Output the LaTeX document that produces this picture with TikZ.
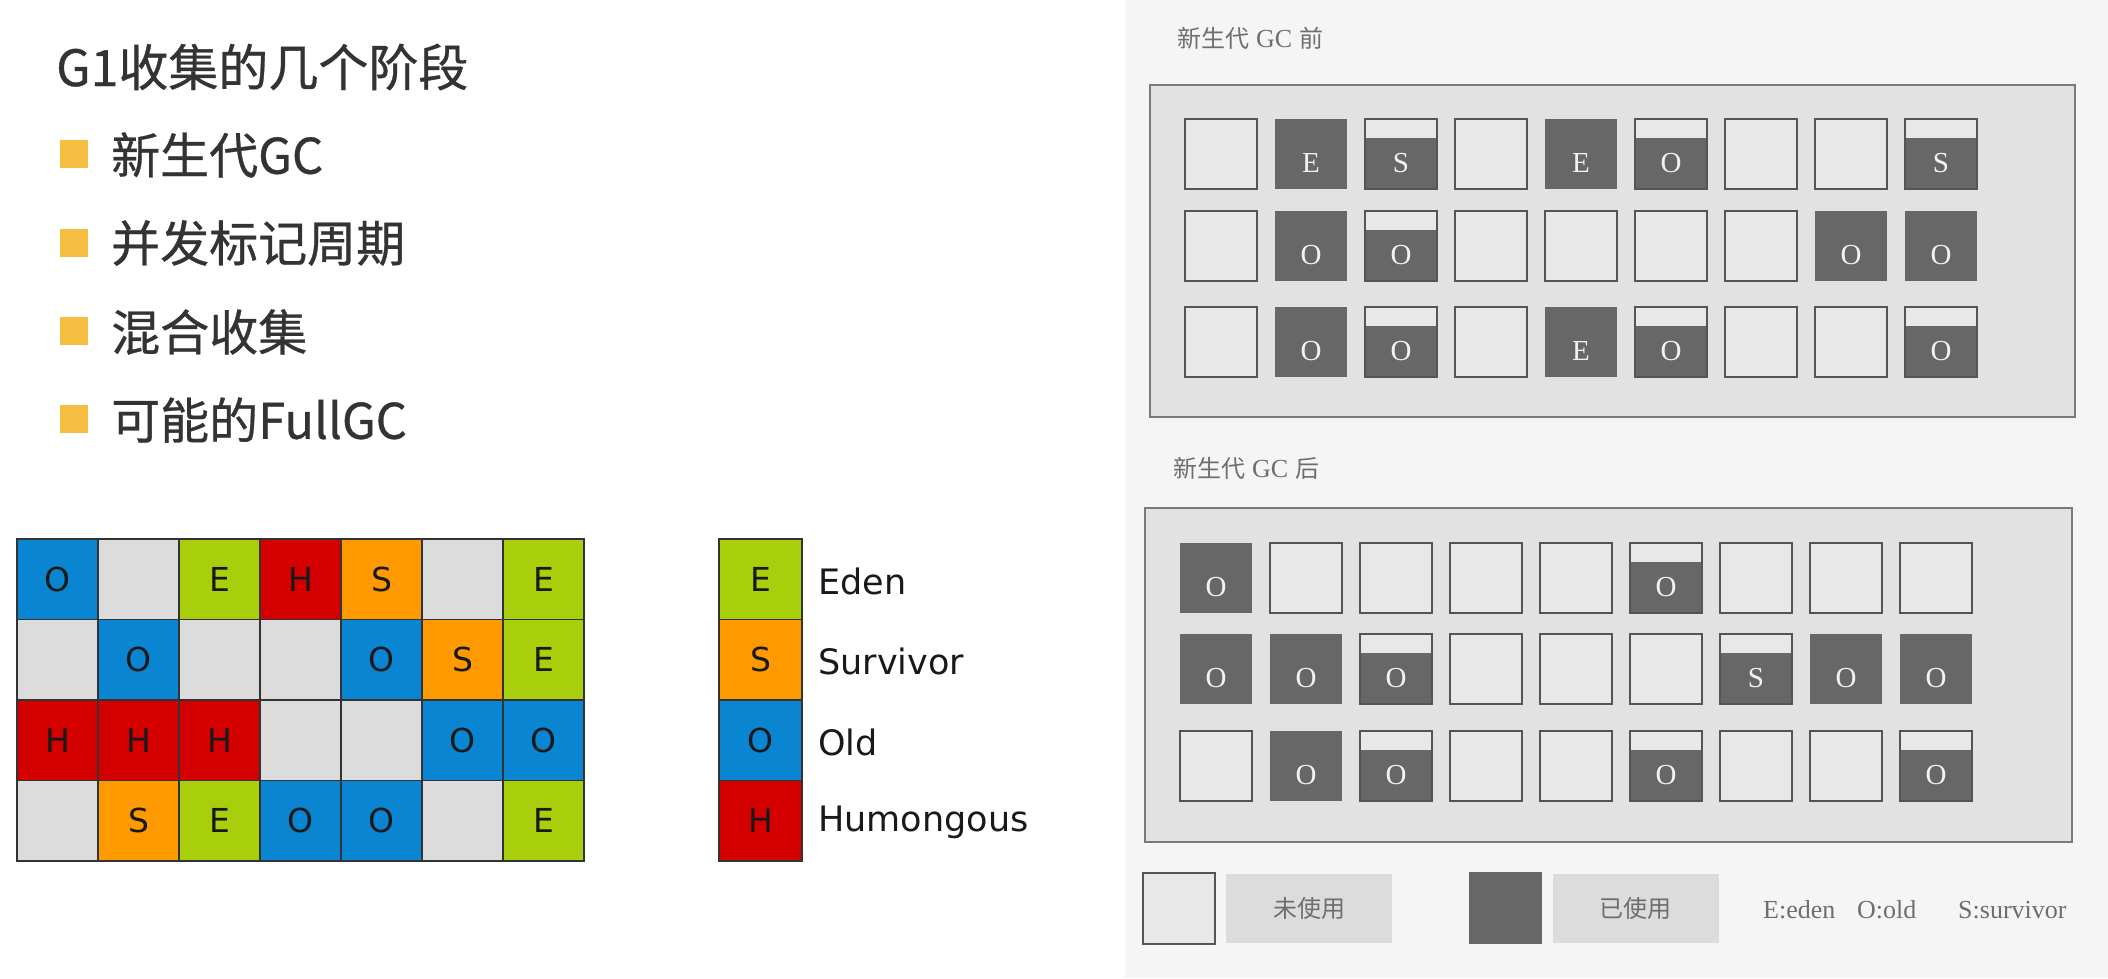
\documentclass[tikz,border=0pt]{standalone}
\usepackage{fontspec}
\newfontfamily\cjk{Noto Sans CJK SC}
\newfontfamily\cjkh[FakeBold=0.6]{Noto Sans CJK SC}
\newfontfamily\dvs{DejaVu Sans}
\newfontfamily\lsr{Liberation Serif}
\newcommand\celltext[1]{\if x#1\else#1\fi}
\definecolor{colO}{HTML}{0A85D2}
\definecolor{colE}{HTML}{A9CF0C}
\definecolor{colH}{HTML}{D40000}
\definecolor{colS}{HTML}{FE9A00}
\definecolor{colx}{HTML}{DCDCDC}
\definecolor{txtdark}{HTML}{333333}
\definecolor{bulletc}{HTML}{F5BE41}
\definecolor{paper}{HTML}{F5F5F5}
\definecolor{boxfill}{HTML}{E2E2E2}
\definecolor{boxline}{HTML}{7A7A7A}
\definecolor{celllight}{HTML}{E8E8E8}
\definecolor{cellline}{HTML}{555555}
\definecolor{celldark}{HTML}{676767}
\definecolor{lettc}{HTML}{F2F2F2}
\definecolor{grayt}{HTML}{6E6E6E}
\definecolor{lblfill}{HTML}{DCDCDC}
\begin{document}
\begin{tikzpicture}[x=1pt,y=-1pt,
  headline/.style={anchor=west,inner sep=0,text=txtdark,font=\cjkh\fontsize{50}{58}\selectfont},
  item/.style={anchor=west,inner sep=0,text=txtdark,font=\cjkh\fontsize{49}{56}\selectfont},
  bulletbox/.style={fill=bulletc,minimum size=28pt,inner sep=0},
  gcell/.style={draw=txtdark,line width=1.5pt,minimum width=81pt,minimum height=80.5pt,inner sep=0,text=black!90,font=\dvs\fontsize{33}{36}\selectfont},
  glabel/.style={anchor=west,inner sep=0,text=black!90,font=\dvs\fontsize{35}{40}\selectfont},
  rtitle/.style={anchor=west,inner sep=0,text=grayt,font=\cjk\fontsize{24}{28}\selectfont},
  bigbox/.style={draw=boxline,line width=2pt,fill=boxfill},
  rcn/.style={draw=cellline,fill=celllight,line width=2pt,minimum width=72pt,minimum height=70pt,inner sep=0},
  rcd/.style={fill=celldark,minimum width=72pt,minimum height=70pt,inner sep=0},
  rch/.style={rcd,draw=cellline,line width=2pt,path picture={\fill[celllight] (path picture bounding box.north west) rectangle ([yshift=-19pt]path picture bounding box.north east);}},
  rlet/.style={inner sep=0,text=lettc,font=\lsr\fontsize{29}{31}\selectfont},
  lblbox/.style={fill=lblfill,minimum width=166pt,minimum height=69pt,inner sep=0,text=grayt,font=\cjk\fontsize{24}{28}\selectfont},
  keytext/.style={anchor=west,inner sep=0,text=grayt,font=\lsr\fontsize{26}{30}\selectfont}
]
\useasboundingbox (0,0) rectangle (2108,978);
\fill[white] (0,0) rectangle (2108,978);
\fill[paper] (1125,0) rectangle (2108,978);

% ---------- left: text ----------
\node[headline] (t0) at (56,67) {G1收集的几个阶段};
\node[bulletbox] (b1) at (74,154) {};
\node[item] (t1) at (111,155) {新生代GC};
\node[bulletbox] (b2) at (74,243) {};
\node[item] (t2) at (111,243) {并发标记周期};
\node[bulletbox] (b3) at (74,331) {};
\node[item] (t3) at (111,332) {混合收集};
\node[bulletbox] (b4) at (74,419) {};
\node[item] (t4) at (111,420) {可能的FullGC};

% ---------- left: region grid ----------
\foreach \row [count=\r from 0] in {{O,x,E,H,S,x,E},{x,O,x,x,O,S,E},{H,H,H,x,x,O,O},{x,S,E,O,O,x,E}}{
  \foreach \t [count=\c from 0] in \row {
    \node[gcell,fill=col\t] (g\r-\c) at ({57.5+81*\c},{579.25+80.5*\r}) {\celltext{\t}};
  }
}
% legend
\foreach \t/\name [count=\r from 0] in {E/Eden,S/Survivor,O/Old,H/Humongous}{
  \node[gcell,fill=col\t,minimum width=83pt] (k\r) at (760.5,{579.25+80.5*\r}) {\t};
  \node[glabel] (kl\r) at (818,{581+80.5*\r}) {\name};
}

% ---------- right: before GC ----------
\node[rtitle] (r1) at (1177,38) {新生代\hspace{7pt}{\lsr\fontsize{26}{28}\selectfont GC}\hspace{7pt}前};
\node[bigbox,minimum width=925pt,minimum height=332pt,inner sep=0] (box1) at (1612.5,251) {};
\foreach \t/\l [count=\i from 0] in {n/x,d/E,h/S,n/x,d/E,h/O,n/x,n/x,h/S,
                                     n/x,d/O,h/O,n/x,n/x,n/x,n/x,d/O,d/O,
                                     n/x,d/O,h/O,n/x,d/E,h/O,n/x,n/x,h/O}{
  \pgfmathtruncatemacro\cc{mod(\i,9)}
  \pgfmathtruncatemacro\rr{\i/9}
  \pgfmathsetmacro\xx{1221+90*\cc}
  \pgfmathsetmacro\yy{{154,246,342}[\rr]}
  \node[rc\t] (p1-\i) at (\xx,\yy) {};
  \if x\l\else\node[rlet] (q1-\i) at (\xx,\yy+9) {\l};\fi
}

% ---------- right: after GC ----------
\node[rtitle] (r2) at (1173,468) {新生代\hspace{7pt}{\lsr\fontsize{26}{28}\selectfont GC}\hspace{7pt}后};
\node[bigbox,minimum width=927pt,minimum height=334pt,inner sep=0] (box2) at (1608.5,675) {};
\foreach \t/\l [count=\i from 0] in {d/O,n/x,n/x,n/x,n/x,h/O,n/x,n/x,n/x,
                                     d/O,d/O,h/O,n/x,n/x,n/x,h/S,d/O,d/O,
                                     n/x,d/O,h/O,n/x,n/x,h/O,n/x,n/x,h/O}{
  \pgfmathtruncatemacro\cc{mod(\i,9)}
  \pgfmathtruncatemacro\rr{\i/9}
  \pgfmathsetmacro\xx{1216+90*\cc}
  \pgfmathsetmacro\yy{{578,669,766}[\rr]}
  \node[rc\t] (p2-\i) at (\xx,\yy) {};
  \if x\l\else\node[rlet] (q2-\i) at (\xx,\yy+9) {\l};\fi
}

% ---------- right: key ----------
\node[rcn,minimum height=71pt] (u1) at (1179,908) {};
\node[lblbox] (u1t) at (1309,908) {未使用};
\node[rcd,minimum width=73pt,minimum height=72pt] (u2) at (1505.5,908) {};
\node[lblbox] (u2t) at (1635.5,908) {已使用};
\node[keytext] (e1) at (1763,910) {E:eden};
\node[keytext] (e2) at (1857,910) {O:old};
\node[keytext] (e3) at (1958,910) {S:survivor};
\end{tikzpicture}
\end{document}
